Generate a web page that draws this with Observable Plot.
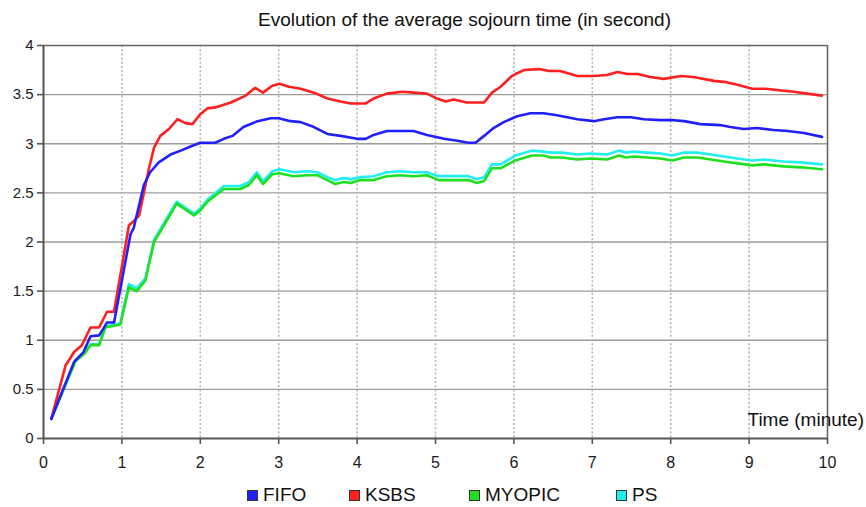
<!DOCTYPE html>
<html>
<head>
<meta charset="utf-8">
<script src="https://cdn.jsdelivr.net/npm/d3@7"></script>
<script src="https://cdn.jsdelivr.net/npm/@observablehq/plot@0.6"></script>
<style>
  html, body { margin: 0; padding: 0; background: #fff; }
  body { width: 866px; height: 507px; overflow: hidden; font-family: "Liberation Sans", Arial, sans-serif; color: #111; }
  #title { height: 26px; padding-top: 10px; padding-left: 258px; font-size: 19px; line-height: 19px; white-space: nowrap; color: #111; }
  #chart svg { display: block; }
  #legend { position: relative; height: 23px; }
  .item { position: absolute; top: 1px; font-size: 19px; line-height: 19px; white-space: nowrap; color: #111; }
  .sw { position: absolute; top: 5px; left: 0; width: 9px; height: 9px; border: 1px solid #333; }
  .lab { position: absolute; left: 16px; top: 0; }
</style>
</head>
<body>
<div id="title"></div>
<div id="chart"></div>
<div id="legend"></div>
<script>
const titleText = "Evolution of the average sojourn time (in second)";
const xAxisLabel = "Time (minute)";
const seriesNames = ["FIFO", "KSBS", "MYOPIC", "PS"];
const seriesColors = ["#1f1fff", "#ff1f1f", "#1fe01f", "#1fefef"];
const xTicks = [0, 1, 2, 3, 4, 5, 6, 7, 8, 9, 10];
const yTicks = [0, 0.5, 1, 1.5, 2, 2.5, 3, 3.5, 4];

const FIFO = [[0.1,0.2],[0.39,0.78],[0.51,0.88],[0.6,1.04],[0.71,1.05],[0.81,1.18],[0.9,1.18],[1.11,2.08],[1.15,2.14],[1.28,2.58],[1.36,2.71],[1.47,2.81],[1.62,2.89],[1.75,2.93],[1.9,2.98],[2.0,3.01],[2.19,3.01],[2.3,3.05],[2.41,3.08],[2.55,3.17],[2.73,3.23],[2.9,3.26],[3.0,3.26],[3.15,3.23],[3.28,3.22],[3.45,3.17],[3.62,3.10],[3.79,3.08],[4.0,3.05],[4.11,3.05],[4.21,3.09],[4.38,3.13],[4.55,3.13],[4.72,3.13],[4.89,3.09],[5.11,3.05],[5.28,3.03],[5.42,3.01],[5.51,3.01],[5.62,3.08],[5.74,3.16],[5.87,3.22],[6.04,3.28],[6.21,3.31],[6.38,3.31],[6.55,3.29],[6.81,3.25],[7.02,3.23],[7.15,3.25],[7.32,3.27],[7.49,3.27],[7.66,3.25],[7.87,3.24],[8.04,3.24],[8.17,3.23],[8.38,3.20],[8.63,3.19],[8.76,3.17],[8.93,3.15],[9.1,3.16],[9.31,3.14],[9.49,3.13],[9.7,3.11],[9.93,3.07]];

const KSBS = [[0.1,0.2],[0.28,0.74],[0.39,0.88],[0.49,0.95],[0.6,1.13],[0.71,1.13],[0.81,1.29],[0.9,1.29],[1.09,2.17],[1.15,2.21],[1.22,2.27],[1.34,2.73],[1.41,2.96],[1.49,3.08],[1.6,3.15],[1.71,3.25],[1.81,3.21],[1.9,3.20],[2.0,3.30],[2.09,3.36],[2.19,3.37],[2.39,3.42],[2.58,3.49],[2.7,3.57],[2.8,3.52],[2.92,3.59],[3.01,3.61],[3.13,3.58],[3.28,3.56],[3.45,3.52],[3.62,3.46],[3.79,3.43],[3.92,3.41],[4.11,3.41],[4.21,3.46],[4.38,3.51],[4.58,3.53],[4.72,3.52],[4.89,3.51],[5.02,3.46],[5.13,3.43],[5.23,3.45],[5.4,3.42],[5.62,3.42],[5.72,3.52],[5.83,3.58],[5.96,3.68],[6.02,3.71],[6.13,3.75],[6.32,3.76],[6.45,3.74],[6.59,3.74],[6.81,3.69],[7.02,3.69],[7.19,3.70],[7.32,3.73],[7.45,3.71],[7.58,3.71],[7.74,3.68],[7.91,3.66],[8.13,3.69],[8.29,3.68],[8.55,3.64],[8.68,3.63],[8.85,3.60],[9.04,3.56],[9.21,3.56],[9.44,3.54],[9.57,3.53],[9.74,3.51],[9.93,3.49]];

const MYOPIC = [[0.1,0.2],[0.41,0.79],[0.52,0.86],[0.6,0.95],[0.71,0.95],[0.79,1.13],[0.98,1.16],[1.09,1.54],[1.19,1.5],[1.3,1.61],[1.41,2.0],[1.7,2.39],[1.92,2.27],[2.0,2.32],[2.09,2.41],[2.3,2.54],[2.51,2.54],[2.62,2.58],[2.72,2.68],[2.8,2.59],[2.92,2.69],[3.01,2.70],[3.19,2.67],[3.36,2.68],[3.49,2.68],[3.62,2.63],[3.72,2.59],[3.83,2.61],[3.92,2.60],[4.04,2.63],[4.21,2.63],[4.38,2.67],[4.55,2.68],[4.72,2.67],[4.89,2.68],[5.04,2.63],[5.15,2.63],[5.28,2.63],[5.42,2.63],[5.53,2.60],[5.62,2.62],[5.72,2.75],[5.83,2.75],[6.02,2.83],[6.23,2.88],[6.38,2.88],[6.47,2.86],[6.61,2.86],[6.81,2.84],[6.98,2.85],[7.19,2.84],[7.34,2.88],[7.43,2.86],[7.53,2.87],[7.70,2.86],[7.87,2.85],[8.02,2.83],[8.17,2.86],[8.34,2.86],[8.51,2.84],[8.68,2.82],[8.85,2.80],[9.04,2.78],[9.19,2.79],[9.44,2.77],[9.66,2.76],[9.93,2.74]];

const PS = [[0.1,0.2],[0.41,0.80],[0.52,0.87],[0.6,0.96],[0.71,0.96],[0.79,1.14],[0.98,1.17],[1.09,1.57],[1.19,1.53],[1.3,1.63],[1.41,2.02],[1.7,2.41],[1.92,2.29],[2.0,2.34],[2.09,2.43],[2.3,2.57],[2.51,2.57],[2.62,2.61],[2.72,2.71],[2.8,2.62],[2.92,2.72],[3.01,2.74],[3.19,2.71],[3.36,2.72],[3.49,2.71],[3.62,2.66],[3.72,2.63],[3.83,2.65],[3.92,2.64],[4.04,2.66],[4.21,2.67],[4.38,2.71],[4.55,2.72],[4.72,2.71],[4.89,2.71],[5.04,2.67],[5.15,2.67],[5.28,2.67],[5.42,2.67],[5.53,2.64],[5.62,2.66],[5.72,2.79],[5.83,2.79],[6.02,2.88],[6.23,2.93],[6.38,2.92],[6.47,2.91],[6.61,2.91],[6.81,2.89],[6.98,2.90],[7.19,2.89],[7.34,2.93],[7.43,2.91],[7.53,2.92],[7.70,2.91],[7.87,2.90],[8.02,2.88],[8.17,2.91],[8.34,2.91],[8.51,2.89],[8.68,2.87],[8.85,2.85],[9.04,2.83],[9.19,2.84],[9.44,2.82],[9.66,2.81],[9.93,2.79]];

const seriesData = { FIFO, KSBS, MYOPIC, PS };
const drawOrder = ["PS", "MYOPIC", "KSBS", "FIFO"];
const colorOf = Object.fromEntries(seriesNames.map((n, i) => [n, seriesColors[i]]));

const xGrid = xTicks.filter(d => d > 0 && d < 10);
const yGrid = yTicks.filter(d => d > 0 && d < 4);

const lineMarks = drawOrder.map(name => Plot.line(seriesData[name], {
  x: d => d[0], y: d => d[1], stroke: colorOf[name], strokeWidth: 2.6, strokeLinejoin: "round", strokeLinecap: "round"
}));

const chart = Plot.plot({
  width: 866,
  height: 448,
  marginLeft: 43,
  marginRight: 39,
  marginTop: 9,
  marginBottom: 46,
  style: { fontFamily: "Liberation Sans, Arial, sans-serif", background: "#fff", overflow: "visible", color: "#111" },
  x: { domain: [0, 10] },
  y: { domain: [0, 4] },
  marks: [
    Plot.ruleY(yGrid, { stroke: "#9c9c9c", strokeWidth: 1.4 }),
    Plot.ruleX(xGrid, { stroke: "#b4b4b4", strokeWidth: 1.6, strokeDasharray: "2,2.2" }),
    Plot.ruleY([4], { stroke: "#666", strokeWidth: 1.6 }),
    Plot.ruleX([10], { stroke: "#666", strokeWidth: 1.6 }),
    ...lineMarks,
    Plot.ruleX([0], { stroke: "#555", strokeWidth: 2 }),
    Plot.ruleY([0], { stroke: "#555", strokeWidth: 2 }),
    Plot.axisX({ ticks: xTicks, tickSize: 6, tickPadding: 12, fontSize: 16, stroke: "#555", strokeWidth: 1.6, fill: "#1a1a1a", tickFormat: d => String(d), label: null }),
    Plot.axisY({ ticks: yTicks, tickSize: 6, tickPadding: 4, fontSize: 15, stroke: "#555", strokeWidth: 1.6, fill: "#1a1a1a", tickFormat: d => String(d), label: null }),
    Plot.text([xAxisLabel], { text: d => d, frameAnchor: "bottom-right", textAnchor: "start", lineAnchor: "bottom", dx: -80, dy: -13, fontSize: 19, fill: "#111" })
  ]
});

document.getElementById("title").textContent = titleText;
document.getElementById("chart").appendChild(chart);

const legendLeft = [247, 349, 469, 616];
const legend = document.getElementById("legend");
seriesNames.forEach((name, i) => {
  const item = document.createElement("div");
  item.className = "item";
  item.style.left = legendLeft[i] + "px";
  const sw = document.createElement("div");
  sw.className = "sw";
  sw.style.background = seriesColors[i];
  const lab = document.createElement("div");
  lab.className = "lab";
  lab.textContent = name;
  item.appendChild(sw);
  item.appendChild(lab);
  legend.appendChild(item);
});
</script>
</body>
</html>
